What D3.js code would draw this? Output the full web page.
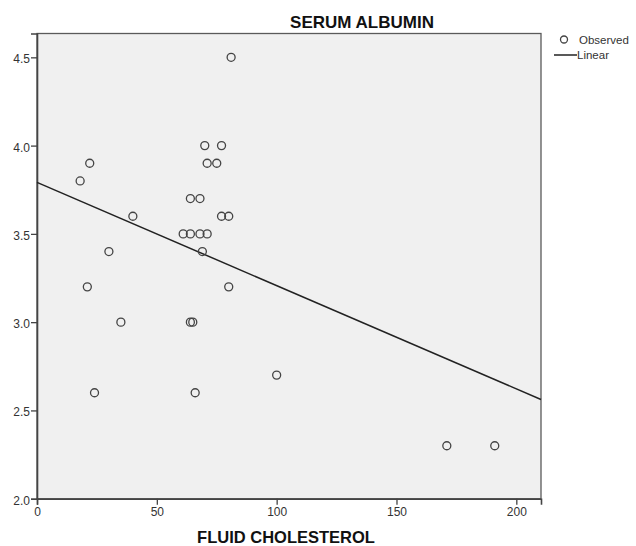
<!DOCTYPE html>
<html>
<head>
<meta charset="utf-8">
<script src="https://cdn.jsdelivr.net/npm/d3@7"></script>
<style>
  body { margin: 0; background: #fff; }
  svg { display: block; font-family: "Liberation Sans", Arial, sans-serif; }
</style>
</head>
<body>
<svg></svg>
<script>
// fluid cholesterol vs serum albumin
var cholesterol = [81, 70, 77, 22, 71, 75, 18, 64, 68, 40, 77, 80, 61, 64, 68, 71, 30, 69,
                   21, 80, 35, 64, 65, 24, 66, 100, 171, 191];
var albumin =     [4.5, 4.0, 4.0, 3.9, 3.9, 3.9, 3.8, 3.7, 3.7, 3.6, 3.6, 3.6, 3.5, 3.5, 3.5, 3.5, 3.4, 3.4,
                   3.2, 3.2, 3.0, 3.0, 3.0, 2.6, 2.6, 2.7, 2.3, 2.3];
var xTicks = [0, 50, 100, 150, 200];
var yTicks = [2.0, 2.5, 3.0, 3.5, 4.0, 4.5];
// linear fit: intercept, slope
var fitIntercept = 3.792,
    fitSlope = -0.00585;

var svgWidth = 636,
    svgHeight = 546;
var plotLeft = 37, plotRight = 541, plotTop = 33.5, plotBottom = 498.7;

var svg = d3.select('svg')
    .attr("width", svgWidth)
    .attr("height", svgHeight);

var xScale = d3.scaleLinear()
    .domain([0, 210.3])
    .range([plotLeft, plotRight]);

var yScale = d3.scaleLinear()
    .domain([2.0, 4.635])
    .range([plotBottom, plotTop]);

svg.append("rect")
    .attr("x", plotLeft)
    .attr("y", plotTop)
    .attr("width", plotRight - plotLeft)
    .attr("height", plotBottom - plotTop)
    .attr("fill", "#f0f0f0")
    .attr("stroke", "#5a5a5a")
    .attr("stroke-width", 1.3);

var xAxis = svg.append("g")
    .attr("transform", "translate(0," + plotBottom + ")")
    .call(d3.axisBottom(xScale).tickValues(xTicks).tickSize(6).tickPadding(3).tickFormat(d3.format("d")));

var yAxis = svg.append("g")
    .attr("transform", "translate(" + plotLeft + ",0)")
    .call(d3.axisLeft(yScale).tickValues(yTicks).tickSize(6).tickPadding(1).tickFormat(d3.format(".1f")));

[xAxis, yAxis].forEach(function(g) {
    g.select(".domain").attr("stroke", "#444").attr("stroke-width", 1.6);
    g.selectAll(".tick line").attr("stroke", "#444").attr("stroke-width", 1.3);
    g.selectAll(".tick text")
        .attr("fill", "#333")
        .style("font-size", "12px")
        .style("font-family", "Liberation Sans, Arial, sans-serif");
});
yAxis.selectAll(".tick text").attr("dy", "0.45em");

// fit line
var lineData = xScale.domain().map(function(x) {
    return [x, fitIntercept + fitSlope * x];
});
svg.append("path")
    .datum(lineData)
    .attr("d", d3.line()
        .x(function(d) { return xScale(d[0]); })
        .y(function(d) { return yScale(d[1]); }))
    .attr("fill", "none")
    .attr("stroke", "#222")
    .attr("stroke-width", 1.5);

svg.selectAll("circle.pt")
    .data(cholesterol)
    .enter()
    .append("circle")
    .attr("class", "pt")
    .attr("cx", function(d) { return xScale(d); })
    .attr("cy", function(d, i) { return yScale(albumin[i]); })
    .attr("r", 4)
    .attr("fill", "none")
    .attr("stroke", "#444")
    .attr("stroke-width", 1.3);

svg.append("text")
    .attr("x", 362)
    .attr("y", 27.5)
    .attr("text-anchor", "middle")
    .style("font-size", "17px")
    .style("font-weight", "bold")
    .attr("fill", "#111")
    .text("SERUM ALBUMIN");

svg.append("text")
    .attr("x", 286)
    .attr("y", 542.5)
    .attr("text-anchor", "middle")
    .style("font-size", "16.5px")
    .style("font-weight", "bold")
    .attr("fill", "#111")
    .text("FLUID CHOLESTEROL");

// legend
svg.append("circle")
    .attr("cx", 564)
    .attr("cy", 39.5)
    .attr("r", 3.5)
    .attr("fill", "none")
    .attr("stroke", "#444")
    .attr("stroke-width", 1.3);
svg.append("text")
    .attr("x", 579)
    .attr("y", 43.5)
    .style("font-size", "11.5px")
    .attr("fill", "#333")
    .text("Observed");
svg.append("line")
    .attr("x1", 554).attr("x2", 577)
    .attr("y1", 55).attr("y2", 55)
    .attr("stroke", "#222")
    .attr("stroke-width", 1.5);
svg.append("text")
    .attr("x", 577)
    .attr("y", 59)
    .style("font-size", "11.5px")
    .attr("fill", "#333")
    .text("Linear");
</script>
</body>
</html>
